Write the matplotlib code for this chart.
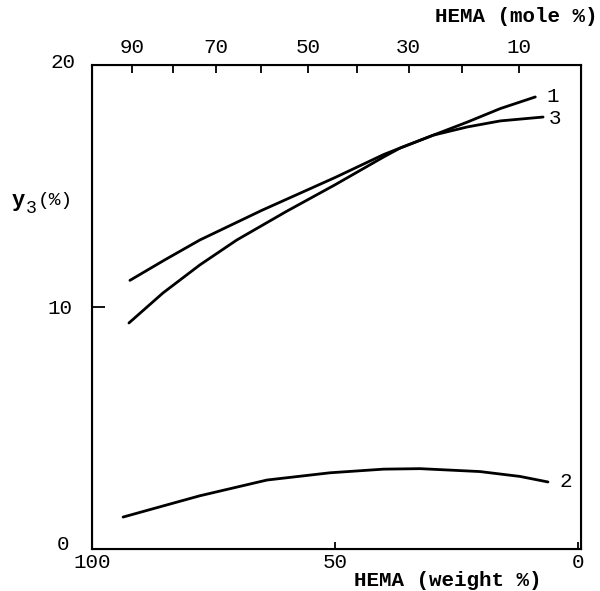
import numpy as np
import matplotlib
matplotlib.use("Agg")
from matplotlib import pyplot as plt
from matplotlib.transforms import ScaledTranslation

# weight % HEMA (bottom axis) and y3 (%)
w_1 = [92.4, 85.4, 77.8, 70.2, 60.0, 50.0, 40.0, 36.6, 29.8, 22.8, 16.0, 8.8]
y_1 = [9.34, 10.58, 11.74, 12.77, 13.95, 15.05, 16.2, 16.57, 17.1, 17.64, 18.2, 18.68]

w_3 = [92.2, 85.0, 77.8, 65.0, 50.0, 40.0, 36.6, 29.8, 22.8, 16.0, 7.2]
y_3 = [11.1, 11.95, 12.77, 14.0, 15.35, 16.3, 16.57, 17.1, 17.44, 17.69, 17.85]

w_2 = [93.6, 85.0, 77.8, 64.0, 51.0, 40.0, 32.5, 20.2, 12.0, 6.2]
y_2 = [1.32, 1.8, 2.2, 2.85, 3.15, 3.3, 3.32, 3.2, 3.0, 2.77]

mole_ticks = [90, 80, 70, 60, 50, 40, 30, 20, 10]
mole_labels = ["90", "", "70", "", "50", "", "30", "", "10"]

M_HEMA = 130.14
M_ST = 104.15


def mole_to_weight(m):
    m = np.asarray(m, dtype=float)
    return 100 * m * M_HEMA / (m * M_HEMA + (100 - m) * M_ST)


plt.rcParams["font.family"] = "Liberation Mono"
plt.rcParams["font.size"] = 15

fig = plt.figure(figsize=(6.0, 5.91), dpi=100)
ax = fig.add_axes([92 / 600, 42 / 591, 489 / 600, 484 / 591])

LW = 2.0
for w, y in [(w_1, y_1), (w_3, y_3), (w_2, y_2)]:
    ax.plot(w, y, color="black", lw=LW, solid_capstyle="round")

ax.annotate("1", (w_1[-1], y_1[-1]), xytext=(8, 0), textcoords="offset points",
            va="center", ha="left")
ax.annotate("3", (w_3[-1], y_3[-1]), xytext=(4, -1), textcoords="offset points",
            va="center", ha="left")
ax.annotate("2", (w_2[-1], y_2[-1]), xytext=(8, 0), textcoords="offset points",
            va="center", ha="left")

ax.set_xlim(100, -0.6)
ax.set_ylim(0, 20)

for s in ax.spines.values():
    s.set_linewidth(1.5)

ax.set_xticks([100, 50, 0])
ax.set_xticklabels(["100", "50", "0"])
ax.tick_params(axis="x", direction="in", length=5, width=1.3, pad=3)
ax.set_yticks([0, 10, 20])
ax.set_yticklabels(["0", "10", "20"])
ax.tick_params(axis="y", direction="in", length=9, width=1.3, pad=14)

# nudge corner labels as in the original
shifts = {"0": (-3, 7), "20": (3, 5)}
for lab in ax.get_yticklabels():
    if lab.get_text() in shifts:
        dx, dy = shifts[lab.get_text()]
        lab.set_transform(lab.get_transform()
                          + ScaledTranslation(dx / 100, dy / 100, fig.dpi_scale_trans))

ax.text(0.92, -0.045, "HEMA (weight %)", transform=ax.transAxes,
        ha="right", va="top", fontweight="bold", fontsize=15)
ax.text(-0.165, 0.72, "y", transform=ax.transAxes, ha="left", va="center",
        fontweight="bold", fontsize=16)
ax.text(-0.135, 0.703, "3", transform=ax.transAxes, ha="left", va="center",
        fontsize=13)
ax.text(-0.11, 0.72, "(%)", transform=ax.transAxes, ha="left", va="center",
        fontsize=14)

top = ax.twiny()
top.set_xlim(ax.get_xlim())
top.set_xticks(mole_to_weight(mole_ticks))
top.set_xticklabels(mole_labels)
top.tick_params(axis="x", direction="in", length=6, width=1.3, pad=6)
top.text(1.033, 1.08, "HEMA (mole %)", transform=ax.transAxes,
         ha="right", va="bottom", fontweight="bold", fontsize=15)

fig.savefig("out.png", dpi=100)
